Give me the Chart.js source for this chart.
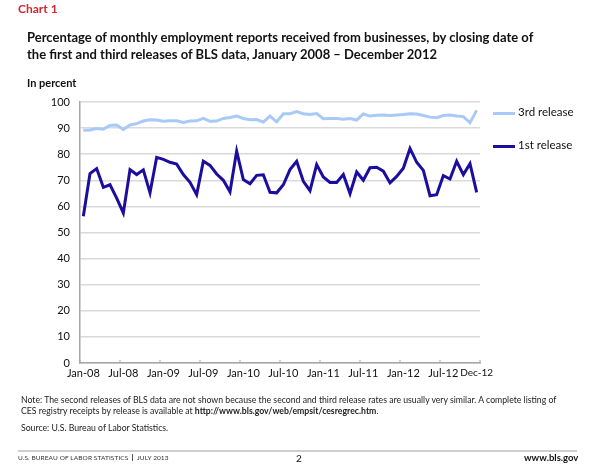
<!DOCTYPE html>
<html lang="en">
<head>
    <meta charset="UTF-8">
    <title>Chart 1</title>
    <script src="https://cdn.jsdelivr.net/npm/chart.js"></script>
    <style>
        body { margin: 0; background: #fff; font-family: Lato, "Open Sans", sans-serif; }
        .page { position: relative; width: 601px; height: 472px; overflow: hidden; }
        .abs { position: absolute; white-space: nowrap; }
        #chart { position: absolute; left: 0; top: 0; }
        .chartno { left: 18px; top: 1px; color: #d2262e; font-weight: bold; font-size: 12px; }
        .title { left: 27px; top: 29px; font-weight: bold; font-size: 13px; line-height: 17px; color: #111; }
        .unit { left: 27px; top: 76px; font-weight: bold; font-size: 11px; color: #111; }
        .legline { left: 493px; width: 22px; height: 3px; }
        .legtxt { left: 518px; font-size: 11.5px; color: #111; }
        .note { left: 21px; top: 394px; font-size: 8.7px; line-height: 11px; color: #222; }
        .source { left: 21px; top: 422px; font-size: 8.7px; color: #222; }
        .rule { left: 18px; top: 450px; width: 559px; height: 2px; background: #cfcfcf; }
        .foot { top: 454px; font-size: 6.5px; color: #333; letter-spacing: 0.1px; }
    </style>
</head>
<body>
<div class="page">
    <canvas id="chart" width="601" height="472"></canvas>

    <div class="abs chartno">Chart 1</div>
    <div class="abs title">Percentage of monthly employment reports received from businesses, by closing date of<br>the first and third releases of BLS data, January 2008 – December 2012</div>
    <div class="abs unit">In percent</div>

    <!-- legende -->
    <div class="abs legline" style="top:112px; background:#a9c9f7;"></div>
    <div class="abs legtxt" style="top:105px;">3rd release</div>
    <div class="abs legline" style="top:145px; background:#1b0e9e;"></div>
    <div class="abs legtxt" style="top:138px;">1st release</div>

    <div class="abs note">Note: The second releases of BLS data are not shown because the second and third release rates are usually very similar. A complete listing of<br>CES registry receipts by release is available at <b>http://www.bls.gov/web/empsit/cesregrec.htm</b>.</div>
    <div class="abs source">Source: U.S. Bureau of Labor Statistics.</div>

    <div class="abs rule"></div>
    <div class="abs foot" style="left:18px;">U.S. BUREAU OF LABOR STATISTICS &nbsp;<span style="border-left:1px solid #555; padding-left:4px;">JULY 2013</span></div>
    <div class="abs" style="left:296px; top:452px; font-size:10px; color:#111;">2</div>
    <div class="abs" style="left:524px; top:452px; font-size:9.5px; font-weight:bold; color:#111;">www.bls.gov</div>
</div>

<script>
    // Donnees (janvier 2008 - decembre 2012)
    const monthNames = ['Jan', 'Feb', 'Mar', 'Apr', 'May', 'Jun', 'Jul', 'Aug', 'Sep', 'Oct', 'Nov', 'Dec'];
    const years = ['08', '09', '10', '11', '12'];
    const shownLabels = ['Jan-08', 'Jul-08', 'Jan-09', 'Jul-09', 'Jan-10', 'Jul-10', 'Jan-11', 'Jul-11', 'Jan-12', 'Jul-12', 'Dec-12'];

    const firstRelease = [
        56.2, 72.6, 74.5, 67.3, 68.3, 63.2, 57.5, 74.1, 72.2, 74.0,
        65.2, 78.8, 78.0, 76.9, 76.2, 72.2, 69.2, 64.5, 77.3, 75.7,
        72.4, 70.0, 65.6, 81.2, 70.3, 68.7, 71.9, 72.1, 65.4, 65.2,
        68.3, 74.1, 77.3, 69.6, 66.0, 76.0, 71.3, 69.2, 69.2, 72.2,
        64.9, 73.2, 70.0, 74.8, 75.0, 73.5, 69.0, 71.5, 74.6, 82.2,
        76.9, 73.8, 64.1, 64.5, 71.8, 70.5, 77.3, 72.2, 76.4, 65.4
    ];
    const thirdRelease = [
        89.2, 89.3, 89.8, 89.6, 91.0, 91.2, 89.5, 91.2, 91.7, 92.7,
        93.2, 93.1, 92.6, 92.8, 92.8, 92.2, 92.7, 92.8, 93.7, 92.6,
        92.7, 93.7, 94.1, 94.6, 93.7, 93.2, 93.3, 92.3, 94.6, 92.4,
        95.5, 95.5, 96.3, 95.5, 95.2, 95.6, 93.6, 93.7, 93.7, 93.4,
        93.7, 93.1, 95.4, 94.6, 94.9, 95.0, 94.8, 95.0, 95.2, 95.5,
        95.4, 94.8, 94.2, 94.0, 94.8, 95.0, 94.6, 94.4, 92.1, 96.8
    ];

    const months = [];
    years.forEach(y => monthNames.forEach(m => months.push(m + '-' + y)));

    // petites graduations vers l'interieur, tous les 6 mois
    const innerTicks = {
        id: 'innerTicks',
        afterDraw(chart) {
            const x = chart.scales.x;
            const ctx = chart.ctx;
            const half = (x.getPixelForValue(1) - x.getPixelForValue(0)) / 2;
            ctx.save();
            ctx.strokeStyle = '#a6a6a6';
            ctx.lineWidth = 1;
            for (let i = 0; i <= months.length; i += 6) {
                const px = i < months.length ? x.getPixelForValue(i) - half : x.right;
                ctx.beginPath();
                ctx.moveTo(px, x.top);
                ctx.lineTo(px, x.top - 3);
                ctx.stroke();
            }
            ctx.restore();
        }
    };

    new Chart(document.getElementById('chart'), {
        type: 'line',
        data: {
            labels: months,
            datasets: [{
                label: '3rd release',
                data: thirdRelease,
                borderColor: '#a9c9f7',
                borderWidth: 3,
                pointRadius: 0,
                tension: 0
            }, {
                label: '1st release',
                data: firstRelease,
                borderColor: '#1b0e9e',
                borderWidth: 3,
                pointRadius: 0,
                tension: 0
            }]
        },
        options: {
            responsive: false,
            animation: false,
            layout: { padding: { top: 102, right: 121, bottom: 0, left: 0 } },
            plugins: {
                legend: { display: false },
                tooltip: { enabled: false }
            },
            scales: {
                x: {
                    offset: true,
                    afterFit: s => { s.height = 109; },
                    grid: { display: false, drawTicks: false },
                    border: { color: '#a6a6a6', width: 1.5 },
                    ticks: {
                        autoSkip: false,
                        maxRotation: 0,
                        padding: 4,
                        color: '#111',
                        font: c => ({ family: 'Lato', size: c.index === months.length - 1 ? 10 : 11 }),
                        callback: function (v, i) {
                            const l = months[i];
                            return shownLabels.includes(l) ? l : '';
                        }
                    }
                },
                y: {
                    min: 0,
                    max: 100,
                    afterFit: s => { s.width = 80; },
                    grid: { color: '#dadada', lineWidth: 1.5, drawTicks: false },
                    border: { color: '#a6a6a6', width: 1.5 },
                    ticks: {
                        stepSize: 10,
                        padding: 10,
                        color: '#111',
                        font: { family: 'Lato', size: 11 }
                    }
                }
            }
        },
        plugins: [innerTicks]
    });
</script>
</body>
</html>
